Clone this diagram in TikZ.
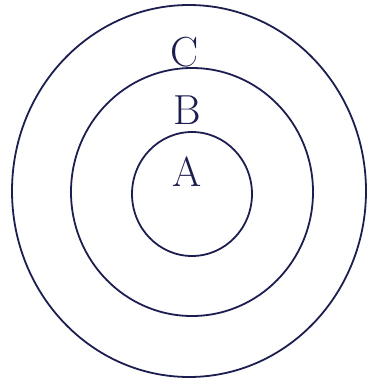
\documentclass[tikz,border=0pt]{standalone}
\begin{document}
\begin{tikzpicture}[x=1pt,y=-1pt,
  ring/.style={draw=inkc, line width=1.8pt},
  lbl/.style={text=inkc, inner sep=0pt, font=\fontsize{42}{48}\selectfont}]
\definecolor{inkc}{RGB}{28,30,80}
\useasboundingbox (0,0) rectangle (368,380);
\draw[ring] (189,191) ellipse [x radius=177, y radius=186];
\draw[ring] (192,192) ellipse [x radius=121, y radius=124];
\draw[ring] (192,194) ellipse [x radius=60, y radius=62];
\node[lbl] (C) at (185,52) {C};
\node[lbl] (B) at (187,110) {B};
\node[lbl] (A) at (187,172) {A};
\end{tikzpicture}
\end{document}
